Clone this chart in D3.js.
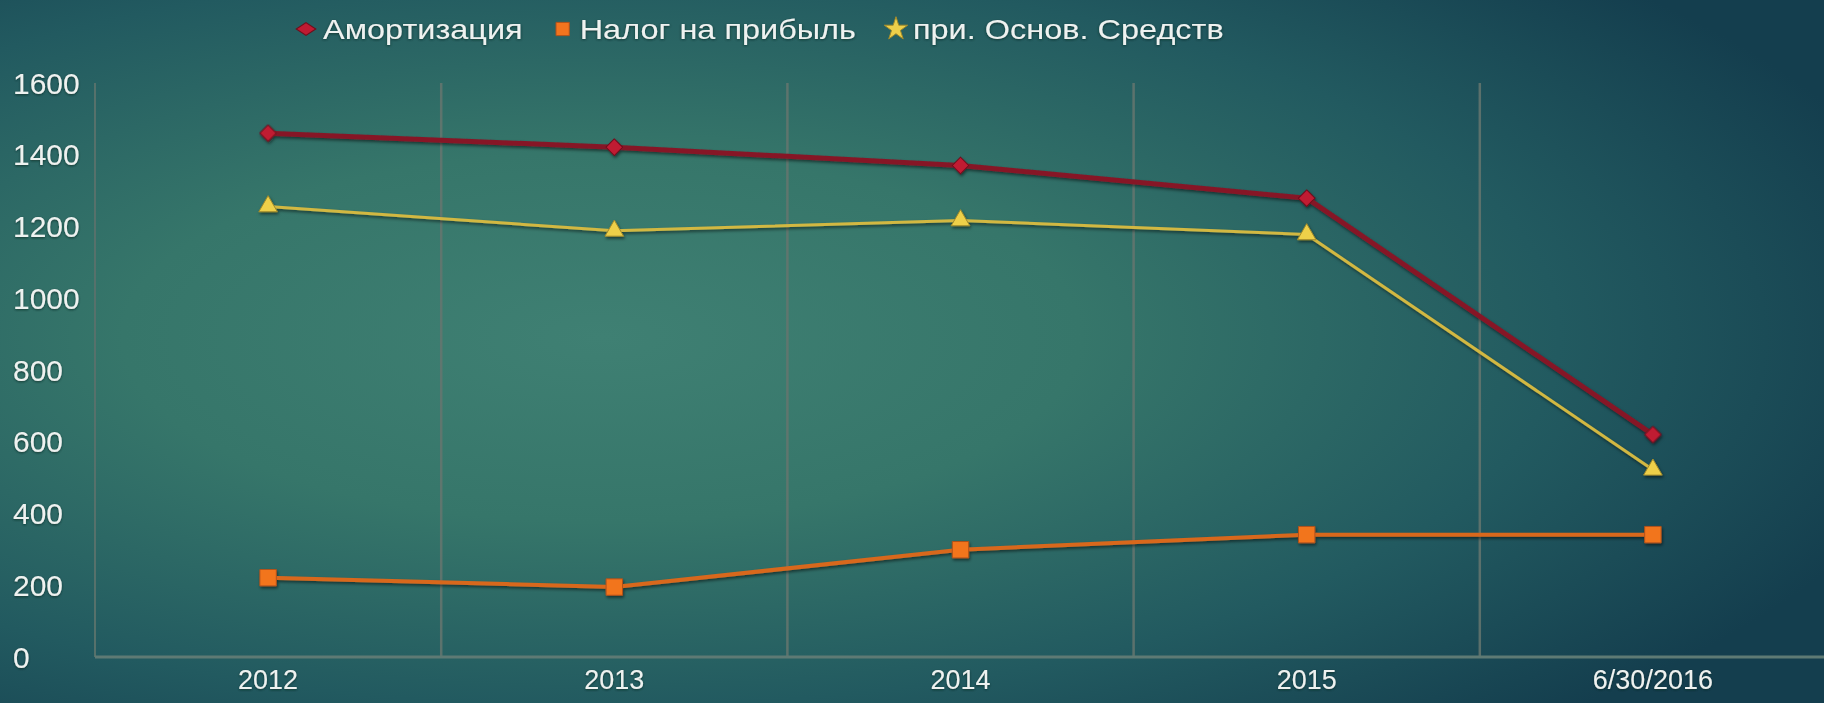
<!DOCTYPE html>
<html>
<head>
<meta charset="utf-8">
<script src="https://cdn.jsdelivr.net/npm/d3@7"></script>
<style>
  html, body { margin: 0; padding: 0; overflow: hidden; background: #1d5558; }
  #chart { width: 1824px; height: 703px; }
  text { font-family: "Liberation Sans", Arial, sans-serif; fill: #eef2f0; }
</style>
</head>
<body>
<div id="chart"></div>
<script>
// data
var categories = ["2012", "2013", "2014", "2015", "6/30/2016"];
var amortization = [1460, 1421, 1370, 1279, 620];
var profitTax = [221, 195, 299, 341, 341];
var fixedAssets = [1256, 1188, 1217, 1178, 522];
var yTicks = [0, 200, 400, 600, 800, 1000, 1200, 1400, 1600];
var seriesNames = ["Амортизация", "Налог на прибыль", "при. Основ. Средств"];

var width = 1824, height = 703;
var margin = { top: 83, right: -2, bottom: 46, left: 95 };

var svg = d3.select("#chart")
    .append("svg")
    .attr("width", width)
    .attr("height", height);

var defs = svg.append("defs");

// background gradient
var bg = defs.append("radialGradient")
    .attr("id", "bg")
    .attr("cx", "33%").attr("cy", "48%")
    .attr("r", "75%")
    .attr("gradientUnits", "objectBoundingBox");
bg.append("stop").attr("offset", "0%").attr("stop-color", "#3f8073");
bg.append("stop").attr("offset", "35%").attr("stop-color", "#36766a");
bg.append("stop").attr("offset", "70%").attr("stop-color", "#225a60");
bg.append("stop").attr("offset", "100%").attr("stop-color", "#143e4e");

var shadow = defs.append("filter").attr("id", "shadow")
    .attr("x", "-5%").attr("y", "-20%").attr("width", "110%").attr("height", "140%");
shadow.append("feDropShadow")
    .attr("dx", 1).attr("dy", 2).attr("stdDeviation", 1.5)
    .attr("flood-color", "#000").attr("flood-opacity", 0.5);

var textShadow = defs.append("filter").attr("id", "tshadow")
    .attr("x", "-10%").attr("y", "-30%").attr("width", "120%").attr("height", "160%");
textShadow.append("feDropShadow")
    .attr("dx", 0).attr("dy", 1).attr("stdDeviation", 1.2)
    .attr("flood-color", "#0a2a28").attr("flood-opacity", 0.8);

svg.append("rect")
    .attr("width", width)
    .attr("height", height)
    .attr("fill", "url(#bg)");

var x = d3.scaleBand()
    .domain(categories)
    .range([margin.left, width - margin.right])
    .padding(0);

var y = d3.scaleLinear()
    .domain([0, 1600])
    .range([height - margin.bottom, margin.top]);

function cx(d, i) { return x(categories[i]) + x.bandwidth() / 2; }

// vertical gridlines between categories
svg.append("g")
    .selectAll("line")
    .data(categories.slice(1))
    .join("line")
    .attr("x1", function(d) { return x(d); })
    .attr("x2", function(d) { return x(d); })
    .attr("y1", y(1600))
    .attr("y2", y(0))
    .attr("stroke", "#66766f")
    .attr("stroke-width", 2.5)
    .attr("opacity", 0.85);

// y axis line
svg.append("line")
    .attr("x1", margin.left).attr("x2", margin.left)
    .attr("y1", y(1600)).attr("y2", y(0))
    .attr("stroke", "#56716b")
    .attr("stroke-width", 2);

// x axis
var xAxis = d3.axisBottom(x).tickSize(0).tickPadding(18);
var gx = svg.append("g")
    .attr("transform", "translate(0," + y(0) + ")")
    .call(xAxis);
gx.select(".domain")
    .attr("stroke", "#5e7a74")
    .attr("stroke-width", 3)
    .attr("d", "M" + margin.left + ",0H" + width);
gx.selectAll(".tick text")
    .attr("font-size", "27px")
    .attr("fill", "#eef2f0")
    .attr("dy", "0.5em")
    .attr("filter", "url(#tshadow)");

// y labels, left aligned
svg.append("g")
    .selectAll("text")
    .data(yTicks)
    .join("text")
    .attr("x", 13)
    .attr("y", function(d) { return y(d); })
    .attr("dominant-baseline", "central")
    .attr("font-size", "30px")
    .attr("filter", "url(#tshadow)")
    .text(function(d) { return d; });

var line = d3.line()
    .x(function(d, i) { return cx(d, i); })
    .y(function(d) { return y(d); });

// series
var series = [
    { name: seriesNames[0], values: amortization, line: "#861828", width: 5, marker: "#c01a32", stroke: "#6e0f1c", symbol: d3.symbolSquare, size: 140, rotate: 45, legendScale: [1.45, 0.95] },
    { name: seriesNames[1], values: profitTax, line: "#d8681e", width: 4, marker: "#f2741e", stroke: "#b2521a", symbol: d3.symbolSquare, size: 270, rotate: 0, legendScale: [1, 1] },
    { name: seriesNames[2], values: fixedAssets, line: "#d2b842", width: 3, marker: "#eed04a", stroke: "#a28a2a", symbol: d3.symbolTriangle, size: 150, rotate: 0, legendScale: [1, 1] }
];

series.forEach(function(s) {
    var g = svg.append("g").attr("filter", "url(#shadow)");
    g.append("path")
        .datum(s.values)
        .attr("d", line)
        .attr("fill", "none")
        .attr("stroke", s.line)
        .attr("stroke-width", s.width)
        .attr("stroke-linejoin", "round");
    g.selectAll("path.pt")
        .data(s.values)
        .join("path")
        .attr("class", "pt")
        .attr("transform", function(d, i) { return "translate(" + cx(d, i) + "," + y(d) + ") rotate(" + s.rotate + ")"; })
        .attr("d", d3.symbol().type(s.symbol).size(s.size))
        .attr("fill", s.marker)
        .attr("stroke", s.stroke)
        .attr("stroke-width", 1)
        .attr("stroke-linejoin", "round");
});

// legend (text is a bit stretched sideways in the original)
var legend = svg.append("g").attr("transform", "translate(0,29)");
var lx = 306;
series.forEach(function(s) {
    var isTri = s.symbol === d3.symbolTriangle;
    legend.append("path")
        .attr("transform", "translate(" + lx + ",0) scale(" + s.legendScale[0] + "," + s.legendScale[1] + ") rotate(" + s.rotate + ")")
        .attr("d", d3.symbol().type(isTri ? d3.symbolStar : s.symbol).size(isTri ? 170 : s.size * 0.65))
        .attr("fill", s.marker)
        .attr("stroke", s.stroke)
        .attr("stroke-width", 1);
    var tg = legend.append("g")
        .attr("transform", "translate(" + (lx + 17) + ",0) scale(1.16,1)");
    var t = tg.append("text")
        .attr("x", 0)
        .attr("y", 0)
        .attr("dominant-baseline", "central")
        .attr("font-size", "28px")
        .attr("filter", "url(#tshadow)")
        .text(s.name);
    lx = lx + 17 + t.node().getComputedTextLength() * 1.16 + 40;
});
</script>
</body>
</html>
